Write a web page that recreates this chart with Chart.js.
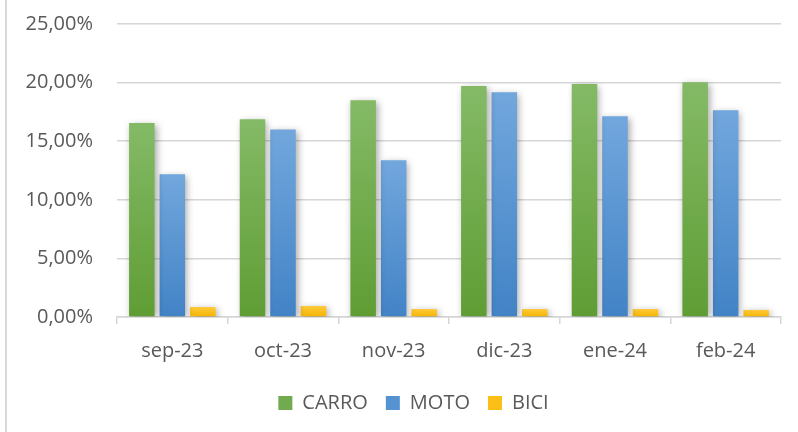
<!DOCTYPE html>
<html lang="es">
<head>
<meta charset="utf-8">
<title>CARRO / MOTO / BICI</title>
<script src="https://cdn.jsdelivr.net/npm/chart.js@4.4.1/dist/chart.umd.min.js"></script>
<style>
  html, body { margin: 0; padding: 0; background: #ffffff; }
  #wrap { width: 798px; height: 432px; position: relative; }
</style>
</head>
<body>
<div id="wrap"><canvas id="mainChart" width="798" height="432"></canvas></div>
<script>
// Months on the x axis
const months = ['sep-23', 'oct-23', 'nov-23', 'dic-23', 'ene-24', 'feb-24'];

// Percentages per vehicle type
const carro = [16.55, 16.87, 18.49, 19.71, 19.88, 20.03];
const moto = [12.18, 16.00, 13.37, 19.17, 17.12, 17.64];
const bici = [0.85, 0.94, 0.68, 0.68, 0.68, 0.60];

// Y axis ticks
const yTicks = [0, 5, 10, 15, 20, 25];

const textColor = '#595959';
const lineColor = '#d6d6d6';

// vertical gradient per bar, from the bar's top down to the baseline
function barGradient(top, bottom) {
    return function(context) {
        const chart = context.chart;
        const area = chart.chartArea;
        if (!area || context.parsed === undefined) return bottom;
        const y = chart.scales.y;
        const y0 = y.getPixelForValue(context.parsed.y);
        const y1 = y.getPixelForValue(0);
        if (y1 - y0 < 1) return bottom;
        const g = chart.ctx.createLinearGradient(0, y0, 0, y1);
        g.addColorStop(0, top);
        g.addColorStop(1, bottom);
        return g;
    };
}

function fmtPct(v) {
    return v.toFixed(2).replace('.', ',') + '%';
}

// soft shadow behind the bars, the thin frame line on the left,
// and the legend nudged a bit to the right
const decorations = {
    id: 'decorations',
    afterLayout(chart) {
        const lg = chart.legend;
        if (lg) {
            lg.left += 23;
            lg.right += 23;
            lg.top -= 3;
            lg.bottom -= 3;
        }
    },
    beforeDraw(chart) {
        const ctx = chart.ctx;
        ctx.save();
        ctx.fillStyle = '#d9d9d9';
        ctx.fillRect(5, 0, 2, chart.height);
        ctx.restore();
    },
    beforeDatasetsDraw(chart) {
        const ctx = chart.ctx;
        ctx.save();
        ctx.shadowColor = 'rgba(0, 0, 0, 0.35)';
        ctx.shadowBlur = 7;
        ctx.shadowOffsetX = 2;
        ctx.shadowOffsetY = 2;
    },
    afterDatasetsDraw(chart) {
        chart.ctx.restore();
    }
};

document.addEventListener('DOMContentLoaded', function() {
    const ctx = document.getElementById('mainChart');

    new Chart(ctx, {
        type: 'bar',
        data: {
            labels: months,
            datasets: [
                {
                    label: 'CARRO',
                    data: carro,
                    backgroundColor: barGradient('#84ba66', '#5f9d34')
                },
                {
                    label: 'MOTO',
                    data: moto,
                    backgroundColor: barGradient('#72a7dd', '#4283c6')
                },
                {
                    label: 'BICI',
                    data: bici,
                    backgroundColor: barGradient('#ffca3a', '#f4b400')
                }
            ]
        },
        options: {
            responsive: false,
            animation: false,
            devicePixelRatio: 1,
            categoryPercentage: 0.827,
            barPercentage: 0.836,
            layout: {
                padding: { left: 0, right: 17, top: 24, bottom: 6 }
            },
            plugins: {
                tooltip: { enabled: false },
                legend: {
                    position: 'bottom',
                    labels: {
                        color: textColor,
                        font: { family: 'Open Sans', size: 20 },
                        boxWidth: 14,
                        boxHeight: 14,
                        padding: 18,
                        generateLabels(chart) {
                            const fills = ['#72aa4f', '#5592d2', '#fbbf18'];
                            return chart.data.datasets.map((ds, i) => ({
                                text: ds.label,
                                fillStyle: fills[i],
                                strokeStyle: fills[i],
                                lineWidth: 0,
                                fontColor: textColor,
                                hidden: false,
                                datasetIndex: i
                            }));
                        }
                    }
                }
            },
            scales: {
                x: {
                    grid: {
                        offset: true,
                        drawOnChartArea: false,
                        tickLength: 7,
                        color: lineColor,
                        lineWidth: 1.5
                    },
                    border: { display: true, color: lineColor, width: 1.5 },
                    ticks: {
                        color: textColor,
                        font: { family: 'Open Sans', size: 20 },
                        padding: 15
                    }
                },
                y: {
                    min: 0,
                    max: 25,
                    afterBuildTicks(scale) {
                        scale.ticks = yTicks.map(v => ({ value: v }));
                    },
                    afterFit(scale) {
                        scale.width = 117;
                        scale.paddingTop = 0;
                        scale.paddingBottom = 0;
                    },
                    grid: {
                        drawTicks: false,
                        color: lineColor,
                        lineWidth: 1.5
                    },
                    border: { display: false },
                    ticks: {
                        color: textColor,
                        font: { family: 'Open Sans', size: 20 },
                        padding: 24,
                        callback: v => fmtPct(v)
                    }
                }
            }
        },
        plugins: [decorations]
    });
});
</script>
</body>
</html>
